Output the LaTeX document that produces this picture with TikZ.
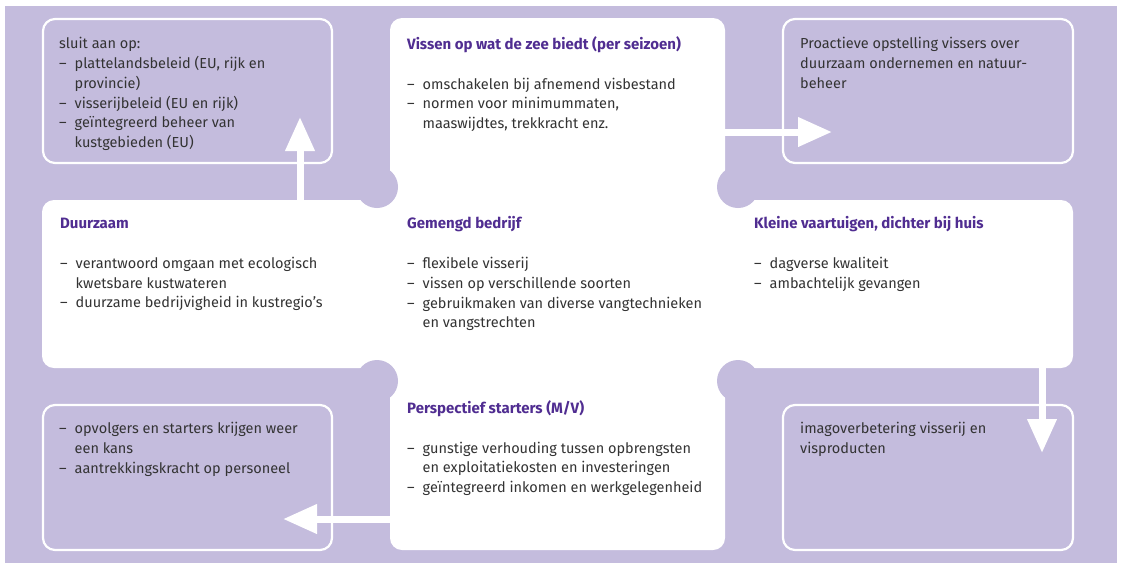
\documentclass[tikz,border=0pt]{standalone}
\usepackage{fontspec}
\setmainfont{Fira Sans}
\usetikzlibrary{arrows.meta}
\definecolor{lav}{HTML}{C4BCDD}
\definecolor{titlepurple}{HTML}{502D91}
\definecolor{bodytext}{HTML}{333333}
\newcommand{\itm}{\makebox[15.5pt][l]{–}}
\newcommand{\cnt}{\hspace*{15.5pt}}
\newcommand{\ttl}[1]{\textcolor{titlepurple}{\fontsize{15}{19.8}\selectfont\bfseries #1}}
\tikzset{
  outerbox/.style={draw=white, line width=2.2pt, fill=lav, rounded corners=12pt},
  crosspart/.style={fill=white, rounded corners=12pt},
  notch/.style={fill=lav},
  txt/.style={anchor=north west, inner sep=0pt, align=left, text=bodytext,
    font=\fontsize{14.5}{19.8}\selectfont},
  flow/.style={draw=white, line width=7pt,
    -{Triangle[length=34pt,width=28pt]}}
}
\begin{document}
\begin{tikzpicture}[x=1pt,y=-1pt]
  \useasboundingbox (0,0) rectangle (1123,563);
  % backdrop
  \fill[lav] (5,6) rectangle (1117,563);

  % outer result boxes
  \draw[outerbox] (43,19) rectangle (332,163);
  \draw[outerbox] (783,19) rectangle (1073,163);
  \draw[outerbox] (43,405) rectangle (332,550);
  \draw[outerbox] (783,405) rectangle (1073,550);

  % central white cross
  \fill[crosspart] (390,18) rectangle (725,212);
  \fill[crosspart] (42,200) rectangle (1073,368);
  \fill[crosspart] (390,356) rectangle (725,550);
  \fill[notch] (377,187) circle (21);
  \fill[notch] (738,187) circle (21);
  \fill[notch] (377,381) circle (21);
  \fill[notch] (738,381) circle (21);

  % arrow end points
  \coordinate (upA) at (300,200);
  \coordinate (upB) at (300,117);
  \coordinate (rtA) at (725,132);
  \coordinate (rtB) at (832,132);
  \coordinate (dnA) at (1042,368);
  \coordinate (dnB) at (1042,453);
  \coordinate (lfA) at (390,519);
  \coordinate (lfB) at (283,519);
  \draw[flow] (upA) -- (upB);
  \draw[flow] (rtA) -- (rtB);
  \draw[flow] (dnA) -- (dnB);
  \draw[flow] (lfA) -- (lfB);

  % texts
  \node[txt] (tl) at (59,36.5) {\rule{0pt}{12pt}sluit aan op:\\
    \itm plattelandsbeleid (EU, rijk en\\
    \cnt provincie)\\
    \itm visserijbeleid (EU en rijk)\\
    \itm geïntegreerd beheer van\\
    \cnt kustgebieden (EU)};
  \node[txt] (tc) at (407,36.5) {\rule{0pt}{12pt}\ttl{Vissen op wat de zee biedt (per seizoen)}\\[19.8pt]
    \itm omschakelen bij afnemend visbestand\\
    \itm normen voor minimummaten,\\
    \cnt maaswijdtes, trekkracht enz.};
  \node[txt] (tr) at (800,36.5) {\rule{0pt}{12pt}Proactieve opstelling vissers over\\
    duurzaam ondernemen en natuur-\\
    beheer};
  \node[txt] (ml) at (60,216.5) {\rule{0pt}{12pt}\ttl{Duurzaam}\\[19.8pt]
    \itm verantwoord omgaan met ecologisch\\
    \cnt kwetsbare kustwateren\\
    \itm duurzame bedrijvigheid in kustregio’s};
  \node[txt] (mc) at (407,216.5) {\rule{0pt}{12pt}\ttl{Gemengd bedrijf}\\[19.8pt]
    \itm flexibele visserij\\
    \itm vissen op verschillende soorten\\
    \itm gebruikmaken van diverse vangtechnieken\\
    \cnt en vangstrechten};
  \node[txt] (mr) at (754,216.5) {\rule{0pt}{12pt}\ttl{Kleine vaartuigen, dichter bij huis}\\[19.8pt]
    \itm dagverse kwaliteit\\
    \itm ambachtelijk gevangen};
  \node[txt] (bl) at (59,421.5) {\rule{0pt}{12pt}\itm opvolgers en starters krijgen weer\\
    \cnt een kans\\
    \itm aantrekkingskracht op personeel};
  \node[txt] (bc) at (407,400.5) {\rule{0pt}{12pt}\ttl{Perspectief starters (M/V)}\\[19.8pt]
    \itm gunstige verhouding tussen opbrengsten\\
    \cnt en exploitatiekosten en investeringen\\
    \itm geïntegreerd inkomen en werkgelegenheid};
  \node[txt] (br) at (800,421.5) {\rule{0pt}{12pt}imagoverbetering visserij en\\
    visproducten};
\end{tikzpicture}
\end{document}
